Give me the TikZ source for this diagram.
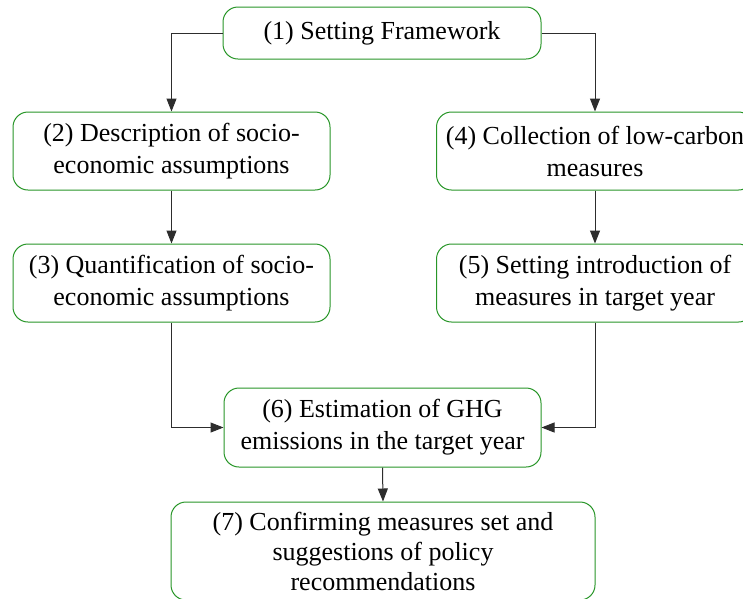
\documentclass[tikz,border=0pt]{standalone}
\usepackage{fontspec}
\setmainfont{Liberation Serif}
\usetikzlibrary{arrows.meta}
\definecolor{boxgreen}{RGB}{40,150,40}
\definecolor{linegray}{RGB}{45,45,45}
\begin{document}
\begin{tikzpicture}[x=1pt,y=1pt,
  stepbox/.style={draw=boxgreen, line width=1pt, rounded corners=15pt,
    align=center, inner sep=0pt, minimum width=317pt, minimum height=78pt,
    font=\fontsize{26}{32}\selectfont},
  flow/.style={draw=linegray, line width=1pt,
    -{Triangle[length=13pt,width=10pt]}}]
\useasboundingbox (0,0) rectangle (743,-598);
\fill[white] (0,0) rectangle (743,-598);

\node[stepbox, minimum width=318pt, minimum height=52pt] (b1) at (382,-33) {(1) Setting Framework};
\node[stepbox] (b2) at (171.5,-151) {(2) Description of socio-\\economic assumptions};
\node[stepbox] (b3) at (171.5,-283) {(3) Quantification of socio-\\economic assumptions};
\node[stepbox] (b4) at (595,-151) {(4) Collection of low-carbon\\measures};
\node[stepbox] (b5) at (595,-283) {(5) Setting introduction of\\measures in target year};
\node[stepbox, minimum height=79pt] (b6) at (382.5,-427.5) {(6) Estimation of GHG\\emissions in the target year};
\node[stepbox, minimum width=424pt, minimum height=98pt,
  font=\fontsize{26}{30}\selectfont] (b7) at (383,-551) {(7) Confirming measures set and\\suggestions of policy\\recommendations};

\draw[flow] (b1.west) -| (b2.north);
\draw[flow] (b1.east) -| (b4.north);
\draw[flow] (b2.south) -- (b3.north);
\draw[flow] (b4.south) -- (b5.north);
\draw[flow] (b3.south) |- (b6.west);
\draw[flow] (b5.south) |- (b6.east);
\draw[flow] (b6.south) -- (b7.north);
\end{tikzpicture}
\end{document}
